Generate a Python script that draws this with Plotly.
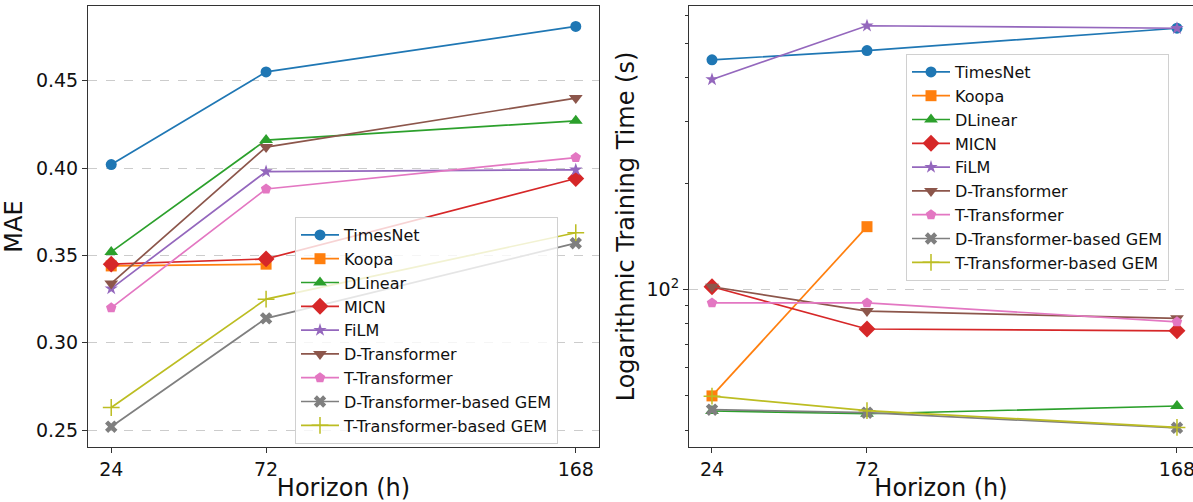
import plotly.graph_objects as go

horizons = [24, 72, 168]
models = ["TimesNet", "Koopa", "DLinear", "MICN", "FiLM", "D-Transformer",
          "T-Transformer", "D-Transformer-based GEM", "T-Transformer-based GEM"]

mae_timesnet = [0.402, 0.455, 0.481]
mae_koopa = [0.344, 0.345, None]
mae_dlinear = [0.352, 0.416, 0.427]
mae_micn = [0.345, 0.348, 0.394]
mae_film = [0.331, 0.398, 0.399]
mae_dtrans = [0.334, 0.412, 0.440]
mae_ttrans = [0.320, 0.388, 0.406]
mae_dgem = [0.252, 0.314, 0.357]
mae_tgem = [0.263, 0.325, 0.363]

time_timesnet = [449, 477, 552]
time_koopa = [50, 151, None]
time_dlinear = [45.3, 44.5, 46.8]
time_micn = [102, 77.4, 76.5]
time_film = [395, 561, 552]
time_dtrans = [102, 87.0, 83.0]
time_ttrans = [91.8, 91.8, 81.1]
time_dgem = [45.7, 44.8, 40.6]
time_tgem = [49.9, 45.4, 40.7]

mae_series = [mae_timesnet, mae_koopa, mae_dlinear, mae_micn, mae_film,
              mae_dtrans, mae_ttrans, mae_dgem, mae_tgem]
time_series = [time_timesnet, time_koopa, time_dlinear, time_micn, time_film,
               time_dtrans, time_ttrans, time_dgem, time_tgem]

colors = ["#1f77b4", "#ff7f0e", "#2ca02c", "#d62728", "#9467bd",
          "#8c564b", "#e377c2", "#7f7f7f", "#bcbd22"]
symbols = ["circle", "square", "triangle-up", "diamond", "star",
           "triangle-down", "pentagon", "x", "cross-thin"]
sizes = [11, 11, 12, 13, 10, 12, 11, 11, 12]

W, H = 1193, 502
FONT = "DejaVu Sans"

fig = go.Figure()

for i, name in enumerate(models):
    mk = dict(symbol=symbols[i], size=sizes[i], color=colors[i])
    if symbols[i] == "cross-thin":
        mk["line"] = dict(color=colors[i], width=1.5)
    else:
        mk["line"] = dict(width=0)
    fig.add_trace(go.Scatter(x=horizons, y=mae_series[i], name=name, mode="lines+markers",
                             line=dict(color=colors[i], width=1.7), marker=mk,
                             xaxis="x", yaxis="y", legend="legend"))
    fig.add_trace(go.Scatter(x=horizons, y=time_series[i], name=name, mode="lines+markers",
                             line=dict(color=colors[i], width=1.7), marker=mk,
                             xaxis="x2", yaxis="y2", legend="legend2"))

frame = "#333333"
axis_common = dict(showline=True, linecolor=frame, linewidth=1, ticks="outside",
                   ticklen=5, tickcolor=frame, tickfont=dict(size=19, color="#111", family=FONT),
                   zeroline=False, automargin=False, ticklabeloverflow="allow")

fig.update_layout(
    width=W, height=H,
    margin=dict(l=0, r=0, t=6, b=55),
    paper_bgcolor="white", plot_bgcolor="white",
    font=dict(family=FONT, color="#111"),
    showlegend=True,
    xaxis=dict(domain=[88 / W, 599 / W], range=[16.8, 175.2], tickvals=horizons,
               mirror=True, showgrid=False,
               title=dict(text="Horizon (h)", font=dict(size=24), standoff=11),
               **axis_common),
    yaxis=dict(range=[0.2404, 0.4927], tickvals=[0.25, 0.30, 0.35, 0.40, 0.45],
               ticktext=["0.25", "0.30", "0.35", "0.40", "0.45"],
               mirror=True, showgrid=True, gridcolor="#cccccc", griddash="dash", gridwidth=1,
               title=dict(text="MAE", font=dict(size=24), standoff=8),
               **axis_common),
    xaxis2=dict(domain=[689 / W, 1.0], range=[16.88, 172.96], tickvals=horizons,
                mirror=True, showgrid=False, anchor="y2",
                title=dict(text="Horizon (h)", font=dict(size=24), standoff=11),
                **axis_common),
    yaxis2=dict(type="log", range=[1.554, 2.805], anchor="x2",
                tickvals=[100], ticktext=["10<sup>2</sup>"],
                mirror=False, showgrid=True, gridcolor="#cccccc", griddash="dash", gridwidth=1,
                minor=dict(tickmode="array",
                           tickvals=[40, 50, 60, 70, 80, 90, 200, 300, 400, 500, 600],
                           ticks="outside", ticklen=3, tickcolor=frame, showgrid=False),
                title=dict(text="Logarithmic Training Time (s)", font=dict(size=24), standoff=5),
                **axis_common),
    legend=dict(x=295 / W, y=(447 - 217) / 441, xanchor="left", yanchor="top",
                bgcolor="rgba(255,255,255,0.8)", bordercolor="#d0d0d0", borderwidth=1,
                font=dict(size=16, family=FONT, color="#111"), itemwidth=38,
                tracegroupgap=0),
    legend2=dict(x=906 / W, y=(447 - 54) / 441, xanchor="left", yanchor="top",
                 bgcolor="rgba(255,255,255,0.8)", bordercolor="#d0d0d0", borderwidth=1,
                 font=dict(size=16, family=FONT, color="#111"), itemwidth=38,
                 tracegroupgap=0),
)

fig.write_html("out.html")
